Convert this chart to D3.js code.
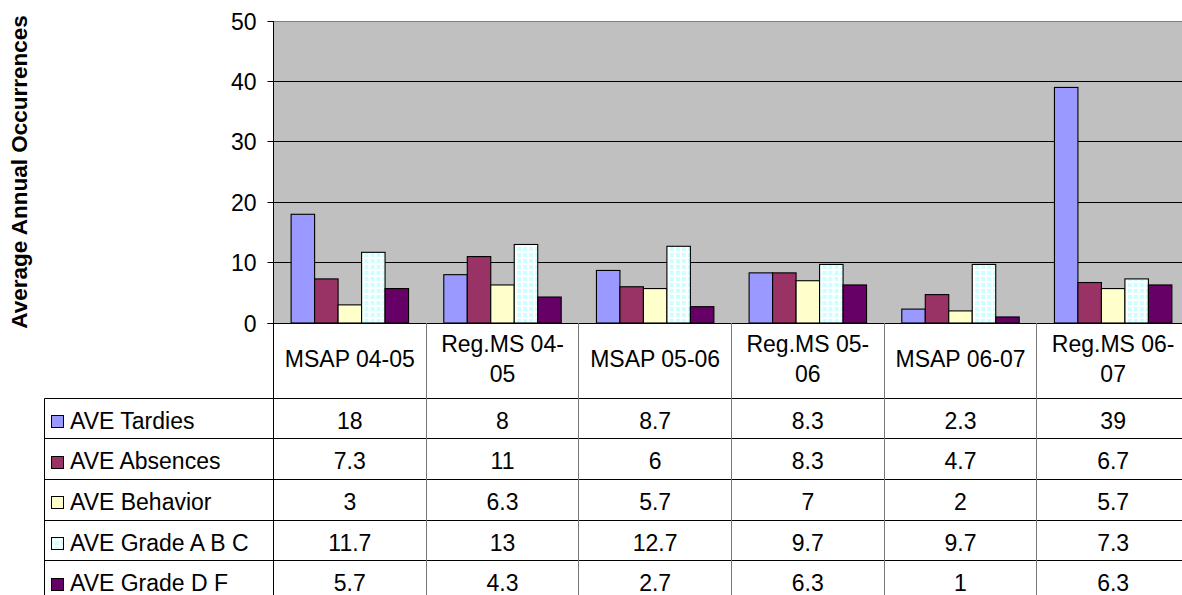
<!DOCTYPE html>
<html>
<head>
<meta charset="utf-8">
<script src="https://cdn.jsdelivr.net/npm/d3@7"></script>
<style>
  html, body { margin: 0; padding: 0; background: #fff; overflow: hidden; }
  svg { display: block; font-family: "Liberation Sans", Arial, sans-serif; }
</style>
</head>
<body>
<svg id="chart" width="1182" height="595"></svg>
<script>
// ---- Data ----
const categories = ["MSAP 04-05", "Reg.MS 04-05", "MSAP 05-06", "Reg.MS 05-06", "MSAP 06-07", "Reg.MS 06-07"];
const seriesNames = ["AVE Tardies", "AVE Absences", "AVE Behavior", "AVE Grade A B C", "AVE Grade D F"];
const tardies   = [18, 8, 8.7, 8.3, 2.3, 39];
const absences  = [7.3, 11, 6, 8.3, 4.7, 6.7];
const behavior  = [3, 6.3, 5.7, 7, 2, 5.7];
const gradeABC  = [11.7, 13, 12.7, 9.7, 9.7, 7.3];
const gradeDF   = [5.7, 4.3, 2.7, 6.3, 1, 6.3];
const tableLabels = [
  ["18", "8", "8.7", "8.3", "2.3", "39"],
  ["7.3", "11", "6", "8.3", "4.7", "6.7"],
  ["3", "6.3", "5.7", "7", "2", "5.7"],
  ["11.7", "13", "12.7", "9.7", "9.7", "7.3"],
  ["5.7", "4.3", "2.7", "6.3", "1", "6.3"]
];
const yTicks = [0, 10, 20, 30, 40, 50];
const yTitle = "Average Annual Occurrences";

const seriesValues = [tardies, absences, behavior, gradeABC, gradeDF];
const colors = ["#9999FF", "#993366", "#FFFFCC", "url(#gridPat)", "#660066"];

// ---- Layout ----
const svg = d3.select("#chart");
const plotL = 273.5, plotR = 1189.5, plotT = 21, plotB = 323;
const legendL = 44.5;
const headerB = 398;
const rowH = 40.7;
const fs = 23;

const defs = svg.append("defs");
const pat = defs.append("pattern").attr("id", "gridPat")
  .attr("patternUnits", "userSpaceOnUse").attr("width", 6).attr("height", 6);
pat.append("rect").attr("width", 6).attr("height", 6).attr("fill", "#ffffff");
pat.append("rect").attr("x", 1).attr("y", 1).attr("width", 4).attr("height", 4).attr("fill", "#CCFFFF");

const x0 = d3.scaleBand().domain(categories).range([plotL, plotR]).paddingInner(0).paddingOuter(0);
const x1 = d3.scaleBand().domain(seriesNames).range([0, x0.bandwidth()]).paddingInner(0).paddingOuter(0.75);
const y = d3.scaleLinear().domain([0, 50]).range([plotB, plotT]);

const crisp = v => Math.round(v - 0.5) + 0.5;

// plot background
svg.append("rect").attr("x", plotL).attr("y", plotT)
  .attr("width", plotR - plotL).attr("height", plotB - plotT).attr("fill", "#C0C0C0");

// gridlines
svg.append("g").selectAll("line").data(yTicks.filter(t => t > 0)).join("line")
  .attr("x1", plotL).attr("x2", plotR)
  .attr("y1", d => crisp(y(d))).attr("y2", d => crisp(y(d)))
  .attr("stroke", d => d === 50 ? "#808080" : "#000").attr("stroke-width", 1);

// y axis
const yAxis = d3.axisLeft(y).tickValues(yTicks).tickSize(6).tickPadding(6);
const ga = svg.append("g").attr("transform", `translate(${crisp(plotL)},0)`).call(yAxis);
ga.select(".domain").attr("stroke", "#000").attr("d", `M0,${plotT}V${plotB}`);
ga.selectAll(".tick line").attr("stroke", "#000");
ga.selectAll(".tick").attr("transform", d => `translate(0,${crisp(y(d))})`);
ga.selectAll(".tick text").attr("font-size", fs).attr("fill", "#000")
  .attr("font-family", "'Liberation Sans', Arial, sans-serif").attr("x", -17).attr("dy", "0.36em");

// bars
const groups = svg.append("g").selectAll("g").data(categories).join("g")
  .attr("transform", d => `translate(${x0(d)},0)`);
groups.selectAll("rect").data((c, ci) => seriesNames.map((s, si) => ({ s, si, v: seriesValues[si][ci] })))
  .join("rect")
  .attr("x", d => x1(d.s))
  .attr("y", d => y(d.v))
  .attr("width", x1.bandwidth())
  .attr("height", d => y(0) - y(d.v))
  .attr("fill", d => colors[d.si])
  .attr("stroke", "#000").attr("stroke-width", 1.1);

// x axis line (extends to tick)
svg.append("line").attr("x1", plotL - 6).attr("x2", plotR).attr("y1", crisp(plotB)).attr("y2", crisp(plotB))
  .attr("stroke", "#000");

// ---- Data table ----
const tbl = svg.append("g");
const rowTops = d3.range(seriesNames.length + 1).map(i => headerB + i * rowH);

tbl.selectAll("line.h").data(rowTops).join("line").attr("class", "h")
  .attr("x1", legendL).attr("x2", plotR)
  .attr("y1", d => crisp(d)).attr("y2", d => crisp(d))
  .attr("stroke", "#000");
tbl.append("line").attr("x1", crisp(legendL)).attr("x2", crisp(legendL))
  .attr("y1", crisp(headerB)).attr("y2", 600).attr("stroke", "#000");
tbl.append("line").attr("x1", crisp(plotL)).attr("x2", crisp(plotL))
  .attr("y1", plotB).attr("y2", 600).attr("stroke", "#000");
tbl.selectAll("line.v").data(categories.slice(1)).join("line").attr("class", "v")
  .attr("x1", d => crisp(x0(d))).attr("x2", d => crisp(x0(d)))
  .attr("y1", plotB).attr("y2", 600).attr("stroke", "#777");

// header labels with wrapping
const maxW = x0.bandwidth() - 12;
categories.forEach(c => {
  const cx = x0(c) + x0.bandwidth() / 2;
  const t = tbl.append("text").attr("x", cx).attr("text-anchor", "middle")
    .attr("font-size", fs).attr("fill", "#000");
  const pieces = c.match(/[^\s-]+-?\s*/g);
  let lines = [], cur = "";
  const probe = tbl.append("text").attr("font-size", fs).attr("visibility", "hidden");
  pieces.forEach(p => {
    const test = cur + p;
    probe.text(test.trim());
    if (cur && probe.node().getComputedTextLength() > maxW) {
      lines.push(cur.trim()); cur = p;
    } else cur = test;
  });
  lines.push(cur.trim());
  probe.remove();
  const lh = 30;
  const base = 366.5 - (lines.length - 1) * lh / 2;
  lines.forEach((l, i) => t.append("tspan").attr("x", cx).attr("y", base + i * lh).text(l));
});

// legend column
seriesNames.forEach((s, i) => {
  const top = rowTops[i];
  tbl.append("rect").attr("x", 51.5).attr("y", Math.round(top + 17) + 0.5)
    .attr("width", 12).attr("height", 12)
    .attr("fill", colors[i]).attr("stroke", "#000").attr("stroke-width", 1);
  tbl.append("text").attr("x", 70).attr("y", top + 30.5)
    .attr("font-size", fs).attr("fill", "#000").text(s);
  categories.forEach((c, ci) => {
    tbl.append("text").attr("x", x0(c) + x0.bandwidth() / 2).attr("y", top + 30.5)
      .attr("text-anchor", "middle").attr("font-size", fs).attr("fill", "#000")
      .text(tableLabels[i][ci]);
  });
});

// y title
svg.append("text").attr("transform", `translate(27,${(plotT + plotB) / 2}) rotate(-90)`)
  .attr("text-anchor", "middle").attr("font-size", 22.5).attr("font-weight", "bold")
  .attr("fill", "#000").text(yTitle);
</script>
</body>
</html>
